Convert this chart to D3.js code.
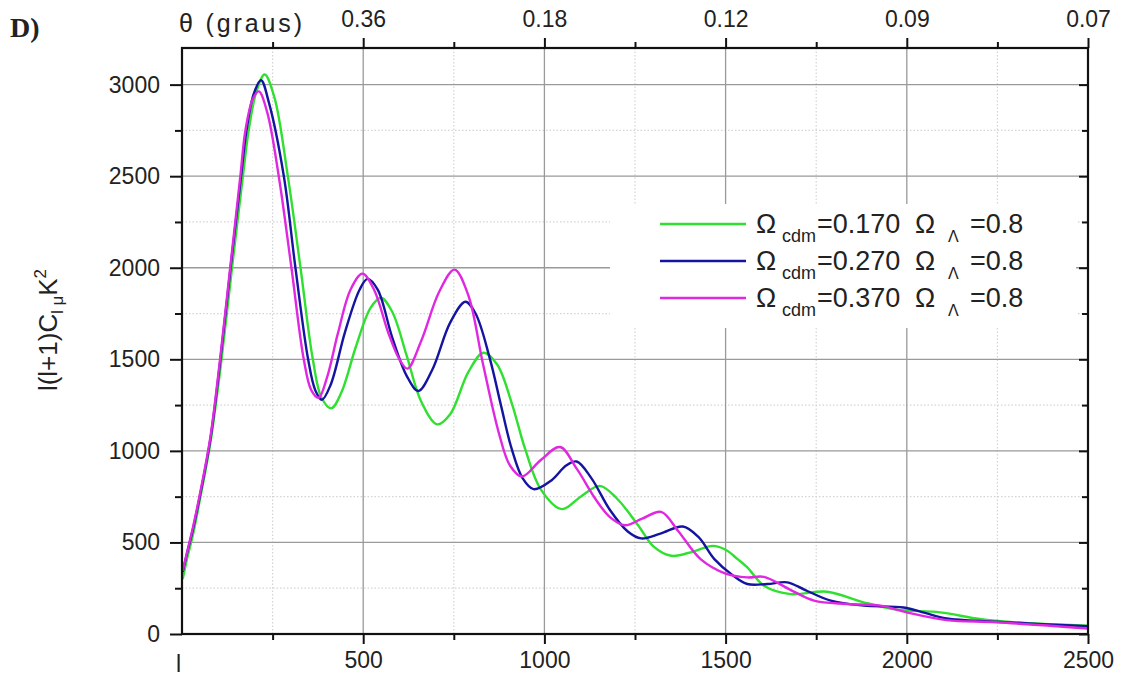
<!DOCTYPE html>
<html>
<head>
<meta charset="utf-8">
<script src="https://cdn.jsdelivr.net/npm/d3@7"></script>
<style>
  body { margin: 0; background: #fff; }
  text { font-family: "Liberation Sans", Arial, sans-serif; fill: #222; }
</style>
</head>
<body>
<svg id="chart"></svg>
<script>
// chart values: [l, l(l+1)Cl]
const green170 = [[2, 300], [15, 420], [30, 540], [50, 740], [78, 1040], [109, 1500], [138, 2000], [168, 2500],
  [184, 2750], [205, 2960], [228, 3055], [255, 2930], [292, 2500], [327, 2000], [361, 1500], [385, 1290], [412, 1233],
  [440, 1320], [480, 1570], [520, 1780], [549, 1836], [580, 1760], [620, 1520], [660, 1270], [704, 1145], [740, 1200],
  [790, 1430], [832, 1536], [870, 1470], [910, 1260], [947, 1009], [990, 790], [1048, 682], [1100, 750], [1153, 809],
  [1200, 740], [1260, 590], [1300, 480], [1350, 427], [1410, 450], [1464, 481], [1500, 460], [1533, 409], [1560, 364],
  [1606, 264], [1680, 218], [1780, 231], [1881, 173], [1973, 133], [2092, 118], [2201, 82], [2293, 64], [2500, 45]];
const blue270 = [[2, 340], [15, 450], [30, 570], [50, 760], [78, 1060], [106, 1500], [134, 2000], [163, 2500],
  [178, 2750], [198, 2950], [218, 3024], [240, 2900], [281, 2500], [313, 2000], [348, 1500], [368, 1330], [386, 1279],
  [410, 1360], [450, 1650], [490, 1880], [512, 1939], [540, 1880], [580, 1620], [620, 1410], [652, 1327], [690, 1440],
  [740, 1700], [782, 1814], [810, 1750], [850, 1500], [880, 1250], [910, 1009], [940, 850], [970, 791], [1020, 840],
  [1060, 920], [1089, 942], [1130, 850], [1180, 680], [1230, 560], [1267, 522], [1320, 548], [1382, 587], [1425, 530],
  [1469, 409], [1520, 320], [1560, 273], [1615, 273], [1670, 282], [1720, 240], [1790, 182], [1881, 155], [1991, 145],
  [2050, 115], [2110, 85], [2247, 67], [2500, 42]];
const magenta370 = [[2, 345], [15, 455], [30, 580], [50, 770], [78, 1070], [105, 1500], [133, 2000], [161, 2500],
  [175, 2750], [195, 2920], [212, 2963], [235, 2850], [267, 2500], [302, 2000], [336, 1500], [357, 1330], [377, 1290],
  [400, 1400], [430, 1640], [465, 1880], [498, 1968], [530, 1880], [570, 1640], [600, 1500], [622, 1449], [660, 1600],
  [710, 1870], [752, 1990], [790, 1850], [830, 1480], [874, 1100], [905, 920], [938, 860], [990, 950], [1043, 1021],
  [1090, 900], [1140, 740], [1180, 640], [1222, 594], [1270, 630], [1322, 667], [1370, 560], [1431, 409], [1500, 330],
  [1560, 309], [1606, 312], [1680, 240], [1744, 182], [1835, 164], [1927, 155], [2000, 118], [2110, 76], [2247, 64],
  [2500, 30]];

const seriesNames = ["0.170", "0.270", "0.370"];
const xMajor = [500, 1000, 1500, 2000, 2500];
const xMinor = [250, 750, 1250, 1750, 2250];
const thetaLabels = ["0.36", "0.18", "0.12", "0.09", "0.07"];
const yMajor = [0, 500, 1000, 1500, 2000, 2500, 3000];
const yMinor = [250, 750, 1250, 1750, 2250, 2750];

const width = 1129, height = 679;
const plotLeft = 182, plotRight = 1088, plotTop = 48, plotBottom = 634;

const svg = d3.select("#chart").attr("width", width).attr("height", height);

const x = d3.scaleLinear().domain([0, 2500]).range([plotLeft, plotRight]);
const y = d3.scaleLinear().domain([0, 3200]).range([plotBottom, plotTop]);

// grid
const grid = svg.append("g");
grid.selectAll(".vmin").data(xMinor).join("line")
  .attr("x1", d => x(d)).attr("x2", d => x(d)).attr("y1", plotTop).attr("y2", plotBottom)
  .attr("stroke", "#d4d4d4").attr("stroke-width", 1.2).attr("stroke-dasharray", "1.5,2");
grid.selectAll(".hmin").data(yMinor).join("line")
  .attr("x1", plotLeft).attr("x2", plotRight).attr("y1", d => y(d)).attr("y2", d => y(d))
  .attr("stroke", "#d4d4d4").attr("stroke-width", 1.2).attr("stroke-dasharray", "1.5,2");
grid.selectAll(".vmaj").data(xMajor.slice(0, -1)).join("line")
  .attr("x1", d => x(d)).attr("x2", d => x(d)).attr("y1", plotTop).attr("y2", plotBottom)
  .attr("stroke", "#9a9a9a").attr("stroke-width", 1.3);
grid.selectAll(".hmaj").data(yMajor.slice(1)).join("line")
  .attr("x1", plotLeft).attr("x2", plotRight).attr("y1", d => y(d)).attr("y2", d => y(d))
  .attr("stroke", "#9a9a9a").attr("stroke-width", 1.3);

// legend background hides the grid
svg.append("rect").attr("x", 610).attr("y", 204).attr("width", 466).attr("height", 124).attr("fill", "#fff");

// curves
const line = d3.line().x(d => x(d[0])).y(d => y(d[1])).curve(d3.curveCatmullRom.alpha(0.5));
const colors = ["#30e030", "#1414a0", "#e028e0"];
[green170, blue270, magenta370].forEach((pts, i) => {
  svg.append("path").datum(pts)
    .attr("d", line)
    .attr("fill", "none")
    .attr("stroke", colors[i])
    .attr("stroke-width", 2.4);
});

// axes
function styleAxis(g) {
  g.select(".domain").remove();
  g.selectAll(".tick line").attr("stroke", "#111").attr("stroke-width", 2);
  g.selectAll(".tick text").style("font-size", "23px").attr("fill", "#222");
}

svg.append("g").attr("transform", `translate(0,${plotBottom})`)
  .call(d3.axisBottom(x).tickValues(xMajor).tickSize(10).tickPadding(8).tickFormat(d3.format("d")))
  .call(styleAxis);
svg.append("g").attr("transform", `translate(0,${plotBottom})`)
  .call(d3.axisBottom(x).tickValues(xMinor).tickSize(6).tickFormat(""))
  .call(styleAxis);

svg.append("g").attr("transform", `translate(0,${plotTop})`)
  .call(d3.axisTop(x).tickValues(xMajor).tickSize(10).tickPadding(11).tickFormat((d, i) => thetaLabels[i]))
  .call(styleAxis);
svg.append("g").attr("transform", `translate(0,${plotTop})`)
  .call(d3.axisTop(x).tickValues(xMinor).tickSize(6).tickFormat(""))
  .call(styleAxis);

svg.append("g").attr("transform", `translate(${plotLeft},0)`)
  .call(d3.axisLeft(y).tickValues(yMajor).tickSize(12).tickPadding(10).tickFormat(d3.format("d")))
  .call(styleAxis);
svg.append("g").attr("transform", `translate(${plotLeft},0)`)
  .call(d3.axisLeft(y).tickValues(yMinor).tickSize(7).tickFormat(""))
  .call(styleAxis);

svg.append("g").attr("transform", `translate(${plotRight},0)`)
  .call(d3.axisRight(y).tickValues(yMajor).tickSize(-9).tickFormat(""))
  .call(styleAxis);
svg.append("g").attr("transform", `translate(${plotRight},0)`)
  .call(d3.axisRight(y).tickValues(yMinor).tickSize(-6).tickFormat(""))
  .call(styleAxis);

// frame
svg.append("rect").attr("x", plotLeft).attr("y", plotTop)
  .attr("width", plotRight - plotLeft).attr("height", plotBottom - plotTop)
  .attr("fill", "none").attr("stroke", "#111").attr("stroke-width", 2.2);

// titles
svg.append("text").attr("x", 10).attr("y", 37)
  .style("font-family", "'Liberation Serif', 'Times New Roman', serif").style("font-weight", "bold")
  .style("font-size", "28px").text("D)");

svg.append("text").attr("x", 179).attr("y", 32).style("font-size", "25px")
  .attr("textLength", 123).attr("lengthAdjust", "spacing").text("θ (graus)");

svg.append("text").attr("x", 176).attr("y", 672).style("font-size", "23px").text("l");

const yl = svg.append("text").attr("transform", "translate(57,330) rotate(-90)")
  .attr("text-anchor", "middle").style("font-size", "26px");
yl.append("tspan").text("l(l+1)C");
yl.append("tspan").attr("dy", 6).style("font-size", "16px").text("l");
yl.append("tspan").style("font-size", "17px").text(" μ");
yl.append("tspan").attr("dy", -6).text("K");
yl.append("tspan").attr("dy", -11).style("font-size", "17px").text("2");

// legend
const legend = svg.append("g").attr("transform", "translate(660,224)");
seriesNames.forEach((name, i) => {
  const row = legend.append("g").attr("transform", `translate(0,${i * 37})`);
  row.append("line").attr("x1", 0).attr("x2", 86).attr("y1", 0).attr("y2", 0)
    .attr("stroke", colors[i]).attr("stroke-width", 2.4);
  const base = 9;
  row.append("text").attr("x", 96).attr("y", base).style("font-size", "27px").text("Ω");
  row.append("text").attr("x", 122).attr("y", base + 9).style("font-size", "18px").text("cdm");
  row.append("text").attr("x", 157).attr("y", base).style("font-size", "27px").text("=" + name);
  row.append("text").attr("x", 255).attr("y", base).style("font-size", "27px").text("Ω");
  row.append("text").attr("x", 288).attr("y", base + 9).style("font-size", "16px").text("Λ");
  row.append("text").attr("x", 310).attr("y", base).style("font-size", "27px").text("=0.8");
});
</script>
</body>
</html>
